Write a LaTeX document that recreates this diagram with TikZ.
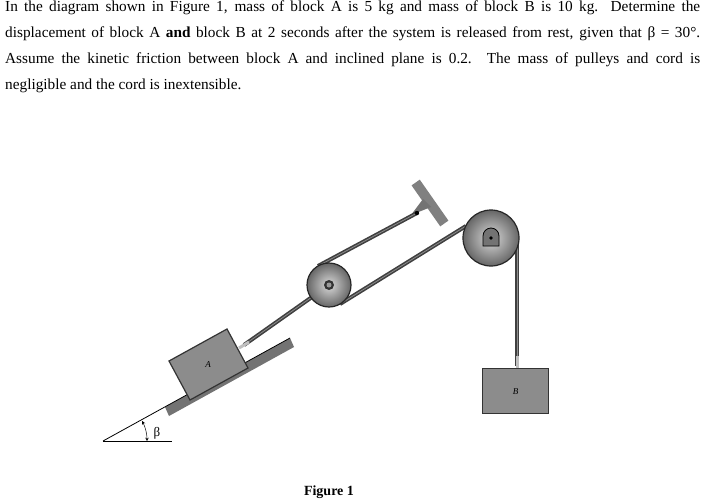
\documentclass[tikz,border=0pt]{standalone}
\usepackage{fontspec}
\setmainfont{Liberation Serif}
\usetikzlibrary{calc}
\begin{document}
\begin{tikzpicture}[x=1pt,y=-1pt,
  rope/.style={line width=4pt,draw=black!75},
  ropecore/.style={line width=0.8pt,draw=black!45},
  blockbox/.style={draw=black!80,fill=black!45,line width=1.2pt},
  pulley/.style={circle,draw=black!85,line width=1.2pt,inner color=black!15,outer color=black!60}]
\useasboundingbox[fill=white] (0,0) rectangle (704,501);
\node[anchor=north west,text width=695pt,align=justify,inner sep=0pt,font=\fontsize{15.3pt}{26pt}\selectfont] (txt) at (5,1)
{\hyphenpenalty=10000 In the diagram shown in Figure 1, mass of block A is 5 kg and mass of block B is 10 kg. Determine the\linebreak displacement of block A \textbf{and} block B at 2 seconds after the system is released from rest, given that β = 30°.\linebreak Assume the kinetic friction between block A and inclined plane is 0.2. The mass of pulleys and cord is\linebreak negligible and the cord is inextensible.};
% incline
\coordinate (apex) at (103,441);
\coordinate (top) at (290,338);
\fill[black!55] (165,407) -- (290,338) -- (294,347) -- (169,416) -- cycle;
\draw[line width=0.8pt] (apex) -- (top);
\draw[line width=0.8pt] (apex) -- (172,441);
\draw[<->,>=stealth,line width=0.5pt] (147,441) arc[start angle=0,end angle=-27,radius=44];
\node (beta) at (157,433) {\fontsize{13pt}{13pt}\selectfont β};
% block A
\draw[blockbox] (169,361) -- (227,329) -- (248,368) -- (190,400) -- cycle;
\node[font=\itshape\small] (labA) at (208,365) {A};
% pulleys
\coordinate (C1) at (329,285);
\coordinate (C2) at (491,238);
\coordinate (pin) at (417,213);
\coordinate (Aatt) at (244,345);
% wall plate
\fill[black!50,rotate around={-55:(430,203)}] (405,198) rectangle (455,208);
\fill[black!55] (pin) ++(-6,2) -- ++(12,-16) -- ++(8,8) -- cycle;
% ropes
\draw[rope] (Aatt) -- (C1);
\draw[ropecore] (Aatt) -- (C1);
\draw[line width=3pt,draw=black!25] (239,348) -- (249,342);
\draw[rope] (318,266) -- (pin);
\draw[ropecore] (318,266) -- (pin);
\draw[rope] (340,304) -- (466,226);
\draw[ropecore] (340,304) -- (466,226);
\draw[rope] (517,240) -- (517,366);
\draw[ropecore] (517,240) -- (517,366);
\draw[line width=3pt,draw=black!25] (517,356) -- (517,368);
\fill[black] (pin) circle (2.2);
\node[pulley,minimum size=44pt] (p1) at (C1) {};
\fill[black!80] (C1) circle (5); \fill[black!40] (C1) circle (2.5);
\node[pulley,minimum size=56pt] (p2) at (C2) {};
\draw[fill=black!55,line width=0.8pt] (483,246) -- (483,236) arc[start angle=180,end angle=360,radius=8] -- (499,246) -- cycle;
\fill[black] (C2) circle (1.8);
% block B
\node[blockbox,minimum width=66pt,minimum height=45pt,anchor=north west,inner sep=0pt] (B) at (482,368) {};
\node[font=\itshape\small] (labB) at (B.center) {B};
\node[font=\bfseries\fontsize{14pt}{14pt}\selectfont] (fig) at (329,492) {Figure 1};
\end{tikzpicture}
\end{document}
